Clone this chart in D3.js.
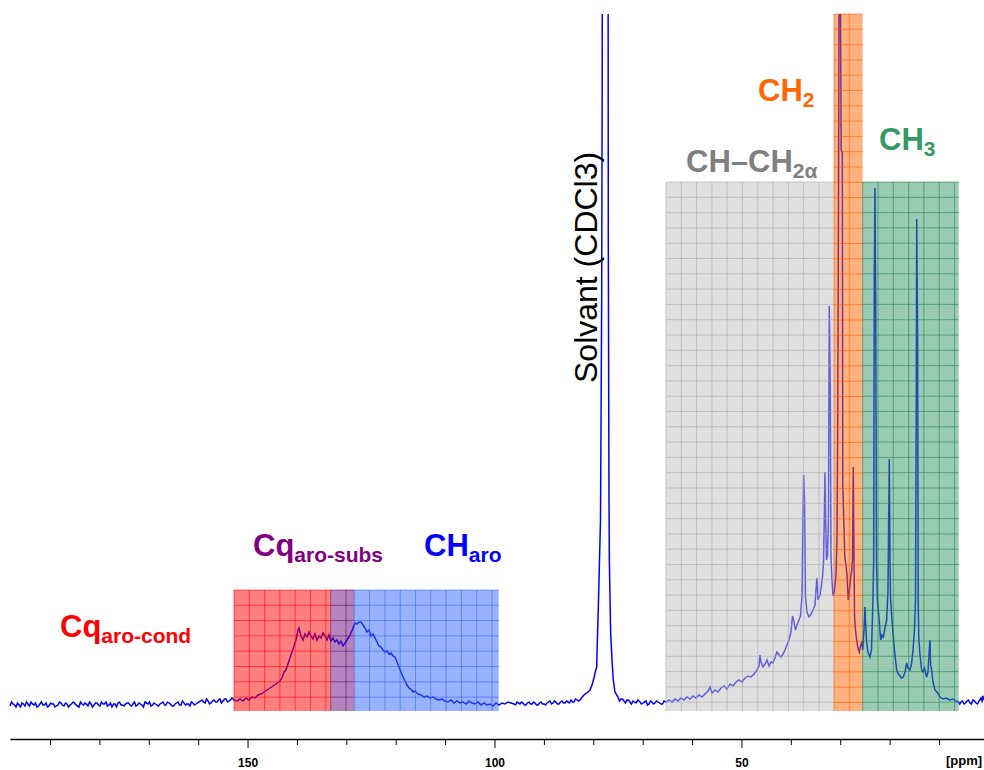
<!DOCTYPE html>
<html><head><meta charset="utf-8">
<script src="https://cdn.jsdelivr.net/npm/d3@7"></script>
<style>body{margin:0;background:#fff}svg{display:block}</style>
</head><body>
<svg id="chart" width="984" height="770"></svg>
<script>
// ---------- DATA (ppm, intensity in arbitrary units, baseline = 0) ----------
const baselineLow = [
[198.10,-2],[197.49,0],[196.89,-3],[196.28,-1],[195.67,1],[195.06,-2],[194.46,0],[193.85,2],[193.24,-1],[192.63,-3],
[192.03,0],[191.42,-1],[190.81,1],[190.20,-2],[189.60,0],[188.99,-3],[188.38,-1],[187.77,1],[187.17,-2],[186.56,0],
[185.95,-1],[185.34,2],[184.74,-1],[184.13,-3],[183.52,0],[182.92,1],[182.31,-2],[181.70,0],[181.09,-1],[180.49,1],
[179.88,-2],[179.27,0],[178.66,2],[178.06,-1],[177.45,-3],[176.84,0],[176.23,1],[175.63,-1],[175.02,-2],[174.41,1],
[173.80,-1],[173.20,0],[172.59,-2],[171.98,1],[171.37,-1],[170.77,2],[170.16,0],[169.55,-2],[168.94,1],[168.34,-1],
[167.73,0],[167.12,2],[166.52,-1],[165.91,1],[165.30,-2],[164.69,0],[164.09,2],[163.48,-1],[162.87,1],[162.26,0],
[161.66,-2],[161.05,1],[160.44,0],[159.83,2],[159.23,4],[158.62,1],[158.01,3],[157.40,1],[156.80,4],[156.19,2],
[155.58,5],[154.97,3],[154.37,5],[153.76,3],[153.15,6]
];
const baselineLowNoise = [
[197.80,2],[197.19,-1],[196.58,1],[195.98,-3],[195.37,0],[194.76,2],[194.15,-2],[193.55,0],[192.94,1],[192.33,-2],
[191.72,2],[191.12,-1],[190.51,-3],[189.90,1],[189.29,0],[188.69,-2],[188.08,2],[187.47,-1],[186.86,1],[186.26,-3],
[185.65,0],[185.04,1],[184.43,-2],[183.83,2],[183.22,-1],[182.61,0],[182.00,2],[181.40,-3],[180.79,1],[180.18,-1],
[179.57,2],[178.97,0],[178.36,-2],[177.75,1],[177.14,0],[176.54,-3],[175.93,2],[175.32,-1],[174.72,0],[174.11,1],
[173.50,-2],[172.89,2],[172.29,-1],[171.68,0],[171.07,-3],[170.46,1],[169.86,2],[169.25,-1],[168.64,0],[168.03,-2],
[167.43,1],[166.82,-1],[166.21,2],[165.60,0],[165.00,-2],[164.39,1],[163.78,-1],[163.17,3],[162.57,-1],[161.96,0],
[161.35,2],[160.74,-1],[160.14,1],[159.53,3],[158.92,2],[158.31,5],[157.71,0],[157.10,3],[156.49,2],[155.88,4],
[155.28,1],[154.67,5],[154.06,2],[153.45,4]
];
const aromaticBand = [
[152.75,4],[152.14,3],[151.53,5],[150.92,3],[150.32,6],[149.71,4],[149.10,7],[148.49,6],[147.89,9],[147.28,10],
[146.67,12],[146.06,14],[145.46,16],[144.85,18],[144.24,20],[143.63,22],[143.03,26],[142.62,32],[142.22,34],[141.81,40],
[141.41,46],[141.00,52],[140.60,58],[140.19,64],[139.79,74],[139.59,76],[139.18,68],[138.78,64],[138.37,70],[137.97,67],
[137.56,72],[137.16,68],[136.75,65],[136.35,70],[135.94,64],[135.54,68],[135.13,66],[134.73,71],[134.32,68],[133.92,64],
[133.51,69],[133.11,63],[132.70,66],[132.30,62],[131.89,64],[131.49,60],[131.08,63],[130.68,58],[130.27,61],[129.87,64],
[129.46,67],[129.06,71],[128.65,76],[128.25,81],[127.84,80],[127.44,82],[127.03,82],[126.63,79],[126.22,76],[125.82,72],
[125.41,74],[125.01,68],[124.60,70],[124.20,66],[123.79,62],[123.39,58],[122.98,57],[122.58,54],[122.17,52],[121.77,53],
[121.36,50],[120.96,51],[120.55,48],[120.15,47],[119.74,42],[119.34,37],[118.93,32],[118.53,27],[118.12,23],[117.72,19],
[117.31,16],[116.91,15],[116.50,12],[116.10,13],[115.49,10],[114.88,9],[114.28,7],[113.67,8],[113.06,6],[112.45,7],
[111.85,5],[111.24,4],[110.63,5],[110.03,3],[109.42,2],[108.81,4],[108.20,1],[107.60,3],[106.99,1],[106.38,2],
[105.77,0],[105.17,3],[104.56,1],[103.95,0],[103.34,2],[102.74,-1],[102.13,1],[101.52,-1],[100.91,0],[100.31,-2],
[99.70,1],[99.09,-1],[98.48,1],[97.88,0],[97.27,2],[96.66,1]
];
const solventBand = [
[96.05,0],[95.45,2],[94.84,0],[94.23,1],[93.63,-1],[93.02,2],[92.41,0],[91.80,1],[91.20,-1],[90.59,2],
[89.98,0],[89.37,1],[88.77,3],[88.16,1],[87.55,2],[86.94,0],[86.34,3],[85.73,1],[85.12,2],[84.51,4],
[83.91,2],[83.30,4],[82.69,4],[82.08,8],[81.68,10],[81.27,11],[80.67,14],[80.26,19],[79.86,26],[79.65,31],
[79.31,37],[79.19,61],[78.99,94],[78.74,144],[78.54,184],[78.30,404],[78.20,619],[78.03,1500],[77.59,3000],[77.10,1500],
[76.96,460],[76.82,204],[76.74,141],[76.48,71],[76.21,44],[75.95,24],[75.61,12],[75.00,7],[74.39,5],[73.78,3],
[73.18,4],[72.57,2],[71.96,3],[71.35,1],[70.54,2],[69.94,1],[69.33,3],[68.72,0],[68.11,2],[67.51,1],
[66.90,2],[66.29,0],[65.68,3]
];
const solventBandNoise = [
[95.75,-1],[95.14,1],[94.54,2],[93.93,-1],[93.32,1],[92.72,0],[92.11,2],[91.50,-1],[90.89,1],[90.29,0],
[89.68,-1],[89.07,2],[88.46,0],[87.86,3],[87.25,0],[86.64,2],[86.03,1],[85.43,3],[84.82,1],[84.21,2],
[83.60,5],[83.00,3],[82.39,6],
[74.70,3],[74.09,5],[73.48,1],[72.87,4],[72.27,0],[71.66,2],[70.95,4],[70.24,0],[69.63,2],[69.03,-1],
[68.42,3],[67.81,0],[67.20,3],[66.60,1],[65.98,0]
];
const aliphaticBand = [
[65.28,2],[64.67,4],[64.06,2],[63.46,5],[62.85,3],[62.24,6],[61.63,4],[61.03,7],[60.42,5],[59.81,8],
[59.21,6],[58.60,9],[57.99,7],[57.38,10],[56.78,13],[56.37,17],[55.97,11],[55.36,14],[54.75,12],[54.14,16],
[53.54,18],[52.93,15],[52.32,20],[51.71,18],[51.11,22],[50.50,24],[49.89,22],[49.28,26],[48.68,28],[48.07,27],
[47.46,30],[46.85,34],[46.45,38],[46.25,49],[46.04,42],[45.64,37],[45.23,40],[44.83,44],[44.42,38],[44.02,42],
[43.62,41],[43.21,46],[42.81,52],[42.40,49],[42.00,47],[41.59,50],[41.19,54],[40.78,59],[40.38,64],[39.97,72],
[39.67,88],[39.36,82],[39.06,74],[38.76,79],[38.35,84],[38.05,88],[37.74,108],[37.54,184],[37.40,229],[37.24,206],
[37.03,107],[36.73,92],[36.33,87],[35.92,90],[35.52,94],[35.11,99],[34.91,114],[34.71,126],[34.50,104],[34.10,109],
[33.80,119],[33.59,127],[33.39,141],[33.23,184],[33.09,232],[32.94,184],[32.78,144],[32.58,149],[32.38,184],[32.22,398],
[32.01,314],[31.87,147],[31.67,124],[31.47,108],[31.26,111],
[31.06,119],[30.86,129],[30.66,164],[30.52,266],[30.37,476],[30.23,704],[30.09,1400],[29.95,704],[29.81,554],[29.58,552],
[29.48,219],[29.28,184],[29.08,147],[28.83,139],[28.63,129],[28.37,104],[28.13,114],[27.92,126],[27.72,132],[27.52,144],
[27.36,237],[27.21,144],[27.09,87],[26.91,74],[26.67,64],[26.41,56],[26.14,52],[25.90,58],[25.66,61],
[25.45,54],[25.19,74],[24.99,97],[24.79,74],[24.64,61],[24.38,52],[23.98,47],[23.67,54],[23.37,104],[23.23,144],
[23.10,431],[22.96,516],[22.82,404],[22.66,144],[22.46,104],[22.09,82],[21.81,64],[21.55,69],[21.28,67],[20.94,76],
[20.59,84],[20.33,114],[20.19,184],[20.07,245],[19.93,144],[19.82,106],[19.52,84],[19.26,67],[18.91,49],[18.57,34],
[18.21,30],[17.90,28],[17.60,26],[17.23,27],[16.89,32],[16.54,41],[16.28,36],[15.88,34],[15.57,40],[15.27,54],
[14.97,74],[14.76,104],[14.60,304],[14.52,485],[14.32,361],[14.22,104],[14.10,67],[13.85,49],[13.51,34],[13.24,32],
[12.94,36],[12.50,27],[12.23,32],[11.97,54],[11.83,64],[11.69,39],[11.48,34],[11.22,22],[10.81,14],[10.41,12],
[9.80,7],[9.19,5],[8.59,6],[7.78,4],[7.17,5],[6.56,3],[6.02,2]
];
const baselineHigh = [
[5.78,0],[5.55,2],[5.25,3],[4.94,0],[4.64,1],[4.34,3],[4.03,4],[3.73,1],[3.42,0],[3.12,4],
[2.81,3],[2.51,1],[2.21,0],[1.91,3],[1.70,4],[1.50,6],[1.30,3],[1.10,8],[0.89,4]
];

// integration regions (ppm)
const regionNames  = ["Cq aro-cond", "Cq aro-subs", "CH aro", "CH-CH2a", "CH2", "CH3"];
const regionFrom   = [152.75, 133.17, 128.39, 65.28, 31.26, 25.45];
const regionTo     = [133.17, 128.39, 99.15, 31.26, 25.45, 6.02];
const regionTop    = [114, 114, 114, 522, 690, 522];
const regionBottom = -7;

// labels
const labelMain = ["Cq", "Cq", "CH", "CH\u2013CH", "CH", "CH"];
const labelSub  = ["aro-cond", "aro-subs", "aro", "2\u03b1", "2", "3"];
const solventLabel = "Solvant (CDCl3)";

// axis
const minorTicks = [190,180,170,160,140,130,120,110,90,80,70,60,40,30,20,10];
const majorTicks = [150,100,50];
const axisUnit = "[ppm]";

// ---------- STYLE / LAYOUT ----------
const W = 984, H = 770;
const regionFill  = ["#ff0000", "#6e0a7a", "#3366ff", "#c0c0c0", "#ff6600", "#339966"];
const regionGrid  = ["#ff0000", "#5a0064", "#3060f0", "#a8a8a8", "#ff5500", "#1f7a4c"];
const labelColor  = ["#ff0000", "#800080", "#0000ff", "#808080", "#ff6600", "#339966"];
const labelPos    = [[60,637],[253,556],[424,556],[686,172],[758,101],[879,150]];
const gridStep = 15.3;
const font = "'Liberation Sans', Arial, sans-serif";

const svg = d3.select("#chart");
const x = d3.scaleLinear().domain([198.1, 0.89]).range([10, 984]);
const y = d3.scaleLinear().domain([0, 690]).range([704, 14]);

svg.append("defs").append("clipPath").attr("id","plotClip")
  .append("rect").attr("x",0).attr("y",y(690)).attr("width",W).attr("height",H);

const spectrum = [].concat(baselineLow, baselineLowNoise, aromaticBand, solventBand,
                           solventBandNoise, aliphaticBand, baselineHigh)
  .sort((a,b)=>b[0]-a[0]);

svg.append("path")
  .datum(spectrum)
  .attr("clip-path","url(#plotClip)")
  .attr("fill","none")
  .attr("stroke","#0000ff")
  .attr("stroke-width",1.5)
  .attr("d", d3.line().x(d=>x(d[0])).y(d=>y(d[1])));

// regions
const regions = regionNames.map((n,i)=>({n, from:regionFrom[i], to:regionTo[i], top:regionTop[i], i}));
const rg = svg.append("g");
regions.forEach(r=>{
  const x0 = x(r.from), x1 = x(r.to), y0 = y(r.top), y1 = y(regionBottom);
  const g = rg.append("g");
  g.append("rect").attr("x",x0).attr("y",y0).attr("width",x1-x0).attr("height",y1-y0)
    .attr("fill",regionFill[r.i]).attr("fill-opacity",0.5);
  const vs = d3.range(x0, x1 - 1, gridStep);
  const hs = d3.range(y0, y1 - 1, gridStep);
  g.selectAll("line.v").data(vs).join("line")
    .attr("x1",d=>d).attr("x2",d=>d).attr("y1",y0).attr("y2",y1)
    .attr("stroke",regionGrid[r.i]).attr("stroke-opacity",0.55).attr("stroke-width",1);
  g.selectAll("line.h").data(hs).join("line")
    .attr("x1",x0).attr("x2",x1).attr("y1",d=>d).attr("y2",d=>d)
    .attr("stroke",regionGrid[r.i]).attr("stroke-opacity",0.55).attr("stroke-width",1);
});

// region labels
labelMain.forEach((m,i)=>{
  const t = svg.append("text")
    .attr("x",labelPos[i][0]).attr("y",labelPos[i][1])
    .attr("fill",labelColor[i]).attr("font-family",font).attr("font-weight","bold");
  t.append("tspan").attr("font-size",31).text(m);
  t.append("tspan").attr("font-size",21).attr("dy",6).text(labelSub[i]);
});

// solvent label
svg.append("text")
  .attr("transform","translate(597,383) rotate(-90)")
  .attr("font-family",font).attr("font-size",32).attr("fill","#000")
  .text(solventLabel);

// axis
const axisY = 739;
const ag = svg.append("g").attr("transform",`translate(0,${axisY})`);
ag.call(d3.axisBottom(x).tickValues(minorTicks).tickSize(6).tickSizeOuter(0).tickFormat(""));
const ag2 = svg.append("g").attr("transform",`translate(0,${axisY})`);
ag2.call(d3.axisBottom(x).tickValues(majorTicks).tickSize(9).tickSizeOuter(0).tickPadding(10));
ag2.select(".domain").remove();
svg.selectAll(".domain").attr("stroke","#000").attr("stroke-width",1.5);
svg.selectAll(".tick line").attr("stroke","#000").attr("stroke-width",1);
ag2.selectAll("text").attr("font-family",font).attr("font-size",12).attr("font-weight","bold").attr("fill","#000");
svg.append("text").attr("x",946).attr("y",765)
  .attr("font-family",font).attr("font-size",13).attr("font-weight","bold").text(axisUnit);
</script>
</body></html>
